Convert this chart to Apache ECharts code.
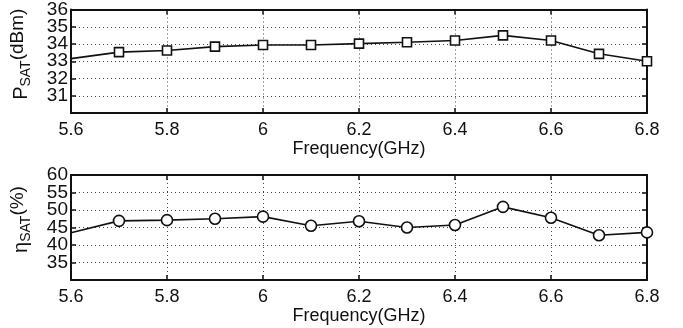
<!DOCTYPE html>
<html>
<head>
<meta charset="utf-8">
<script src="https://cdn.jsdelivr.net/npm/echarts@6/dist/echarts.min.js"></script>
<style>
  html, body { margin: 0; padding: 0; background: #fff; }
  #chart { width: 683px; height: 328px; }
</style>
</head>
<body>
<div id="chart"></div>
<script>
// data
const freq = [5.6, 5.7, 5.8, 5.9, 6.0, 6.1, 6.2, 6.3, 6.4, 6.5, 6.6, 6.7, 6.8];
const psat = [33.15, 33.53, 33.62, 33.85, 33.94, 33.94, 34.02, 34.1, 34.2, 34.5, 34.2, 33.43, 33.0];
const eta = [43.5, 46.9, 47.1, 47.5, 48.1, 45.5, 46.8, 45.0, 45.7, 50.9, 47.8, 42.8, 43.6];
const xTicks = [5.6, 6.8, 0.2];      // min, max, step
const psatTicks = [30, 36, 1];
const etaTicks = [30, 60, 5];
const psatLabels = [31, 32, 33, 34, 35, 36];
const etaLabels = [35, 40, 45, 50, 55, 60];

const chart = echarts.init(document.getElementById('chart'));
const font = 'Liberation Sans, Arial, sans-serif';
const black = '#111';

function pts(ys) {
  // first point has no marker in the original
  return freq.map((f, i) => i === 0 ? {value: [f, ys[i]], symbol: 'none'} : [f, ys[i]]);
}

function xAxes(gridIndex) {
  return [
    {
      type: 'value', gridIndex: gridIndex,
      min: xTicks[0], max: xTicks[1], interval: xTicks[2],
      axisLine: {lineStyle: {color: black, width: 2}},
      axisTick: {inside: true, length: 5, lineStyle: {color: black, width: 1.5}},
      axisLabel: {color: black, fontSize: 18, fontFamily: font, margin: 8,
        showMinLabel: true, showMaxLabel: true, hideOverlap: false,
        formatter: v => String(+v.toFixed(1))},
      splitLine: {show: true, lineStyle: {color: '#444', type: [1, 3], width: 1}},
      name: 'Frequency(GHz)', nameLocation: 'middle', nameGap: 27,
      nameTextStyle: {color: black, fontSize: 18, fontFamily: font}
    },
    {
      type: 'value', gridIndex: gridIndex, position: 'top',
      min: xTicks[0], max: xTicks[1], interval: xTicks[2],
      axisLine: {lineStyle: {color: black, width: 2}},
      axisTick: {inside: true, length: 5, lineStyle: {color: black, width: 1.5}},
      axisLabel: {show: false}, splitLine: {show: false}
    }
  ];
}

// y labels are spread over several left axes so none get dropped as overlapping
function yLabel(values) {
  return {
    color: black, fontSize: 19, fontFamily: font, margin: 3,
    showMinLabel: true, showMaxLabel: true, hideOverlap: false,
    customValues: values,
    formatter: v => values.some(t => Math.abs(t - v) < 1e-6) ? String(Math.round(v)) : ''
  };
}

function labelAxis(base, values) {
  return {
    ...base, position: 'left',
    axisLine: {show: false}, axisTick: {show: false}, splitLine: {show: false},
    axisLabel: yLabel(values)
  };
}

function yAxes(gridIndex, ticks, labels, main, unit, shift) {
  const base = {type: 'value', gridIndex: gridIndex, min: ticks[0], max: ticks[1], interval: ticks[2]};
  return [
    {
      ...base,
      axisLine: {show: true, lineStyle: {color: black, width: 2}},
      axisTick: {show: true, inside: true, length: 5, lineStyle: {color: black, width: 1.5}},
      axisLabel: {show: false},
      splitLine: {show: true, lineStyle: {color: '#444', type: [1, 3], width: 1}}
    },
    {
      ...base, position: 'right',
      axisLine: {show: true, lineStyle: {color: black, width: 2}},
      axisTick: {show: true, inside: true, length: 5, lineStyle: {color: black, width: 1.5}},
      axisLabel: {show: false}, splitLine: {show: false}
    },
    labelAxis(base, labels.filter((_, i) => i % 2 === 0)),
    labelAxis(base, labels.filter((_, i) => i % 2 === 1 && i > 1)),
    labelAxis(base, labels.filter((_, i) => i === 1)),
    {
      // name only
      ...base, position: 'left',
      axisLine: {show: false}, axisTick: {show: false}, splitLine: {show: false},
      axisLabel: {show: false},
      name: '{m|' + main + '}{s|SAT}{u|' + unit + '}',
      nameLocation: 'middle', nameGap: 36, nameRotate: 90,
      nameTextStyle: {
        color: black, fontFamily: font,
        rich: {
          m: {fontSize: 20, fontFamily: font, color: black, padding: [0, 0, 0, shift]},
          s: {fontSize: 14, fontFamily: font, color: black, padding: [10, 0, 0, 0]},
          u: {fontSize: 19, fontFamily: font, color: black, padding: [0, 0, 8, 0]}
        }
      }
    }
  ];
}

const option = {
  backgroundColor: '#fff',
  animation: false,
  grid: [
    {left: 70, right: 36, top: 7, height: 106},
    {left: 70, right: 36, top: 175, height: 105}
  ],
  xAxis: [...xAxes(0), ...xAxes(1)],
  yAxis: [
    ...yAxes(0, psatTicks, psatLabels, 'P', '(dBm)', 14),
    ...yAxes(1, etaTicks, etaLabels, 'η', '(%)', 16)
  ],
  series: [
    {
      type: 'line', xAxisIndex: 0, yAxisIndex: 0,
      data: pts(psat),
      symbol: 'rect', symbolSize: 9, showAllSymbol: true,
      lineStyle: {color: black, width: 1.6},
      itemStyle: {color: '#fff', borderColor: black, borderWidth: 1.6}
    },
    {
      type: 'line', xAxisIndex: 2, yAxisIndex: 6,
      data: pts(eta),
      symbol: 'circle', symbolSize: 11, showAllSymbol: true,
      lineStyle: {color: black, width: 1.6},
      itemStyle: {color: '#fff', borderColor: black, borderWidth: 1.6}
    }
  ]
};

chart.setOption(option);
</script>
</body>
</html>
